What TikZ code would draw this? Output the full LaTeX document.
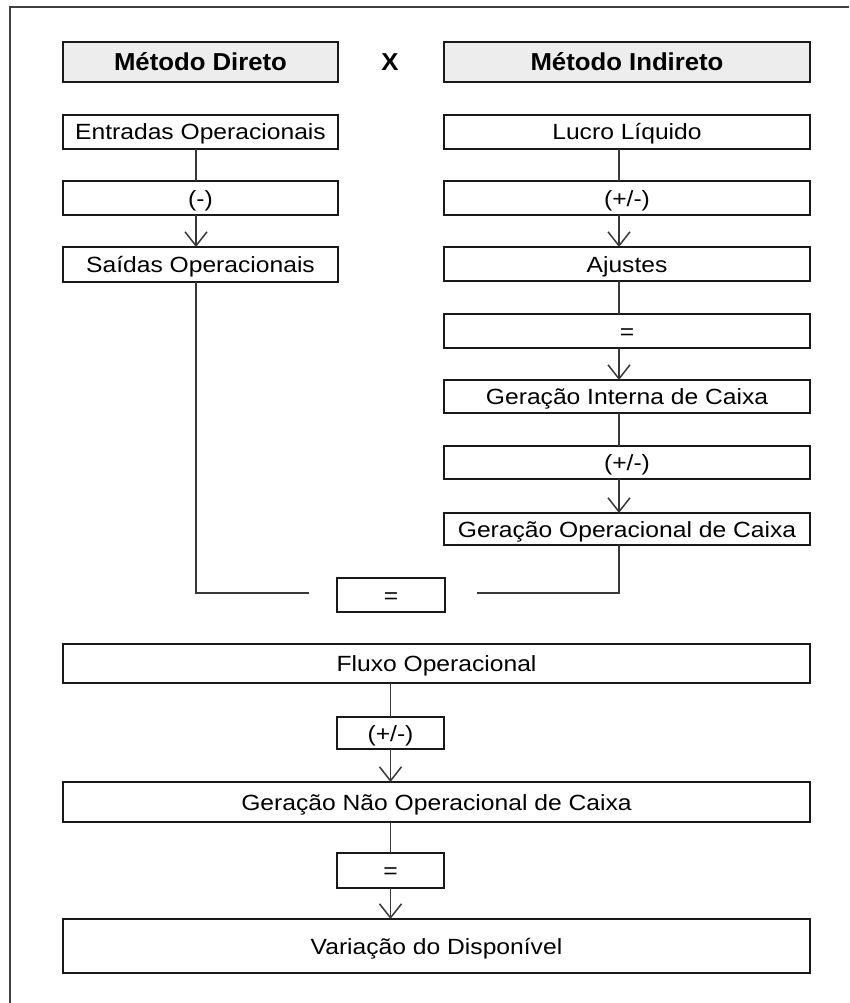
\documentclass[tikz,border=0pt]{standalone}
\usepackage{fontspec}
\setmainfont{Liberation Sans}[FakeStretch=1.12]
\newfontfamily\hdfont{Liberation Sans}[FakeStretch=1.05]
\usetikzlibrary{arrows.meta,calc}
\begin{document}
\begin{tikzpicture}[x=1pt,y=-1pt,
  box/.style={draw=black!90, line width=2pt, fill=white, rectangle, inner sep=0pt, outer sep=0pt,
    font=\fontsize{22}{26}\selectfont, text height=16pt, text depth=0pt},
  hdr/.style={box, fill=black!7, font=\hdfont\bfseries\fontsize{24.5}{28}\selectfont, text height=17pt},
  lbox/.style={box, minimum width=275pt},
  rbox/.style={box, minimum width=366pt},
  wbox/.style={box, minimum width=747pt},
  sbox/.style={box, minimum width=107pt},
  conn/.style={draw=black!78, line width=1.6pt},
  arr/.style={conn, -{Straight Barb[length=14pt,width=22pt,line width=1.5pt]}}
]
\useasboundingbox (0,0) rectangle (849,1003);
\draw[line width=2pt, black!75] (849,7) -- (10,7) -- (10,1003);

% headers
\node[hdr, minimum width=275pt, minimum height=40pt] (hd) at (200.5,62) {Método Direto};
\node[font=\hdfont\bfseries\fontsize{24.5}{28}\selectfont, inner sep=0pt, text height=17pt, text depth=0pt] (vs) at (390,62) {X};
\node[hdr, minimum width=366pt, minimum height=40pt] (hi) at (627,62) {Método Indireto};

% left column
\node[lbox, minimum height=34pt] (eo) at (200.5,132) {Entradas Operacionais};
\node[lbox, minimum height=34pt] (m1) at (200.5,198) {(-)};
\node[lbox, minimum height=35pt] (so) at (200.5,264.5) {Saídas Operacionais};

% right column
\node[rbox, minimum height=34pt] (ll) at (627,132) {Lucro Líquido};
\node[rbox, minimum height=34pt] (r1) at (627,198) {(+/-)};
\node[rbox, minimum height=34pt] (aj) at (627,264) {Ajustes};
\node[rbox, minimum height=34pt] (r2) at (627,331) {=};
\node[rbox, minimum height=33pt] (gi) at (627,396.5) {Geração Interna de Caixa};
\node[rbox, minimum height=33pt] (r3) at (627,462.5) {(+/-)};
\node[rbox, minimum height=32pt] (go) at (627,529) {Geração Operacional de Caixa};

% middle
\node[sbox, minimum width=108pt, minimum height=34pt] (eq) at (391,595) {=};

% bottom
\node[wbox, minimum height=39pt] (fo) at (436.5,663.5) {Fluxo Operacional};
\node[sbox, minimum height=32pt] (b1) at (390.5,733) {(+/-)};
\node[wbox, minimum height=40pt] (gn) at (436.5,802) {Geração Não Operacional de Caixa};
\node[sbox, minimum height=35pt] (b2) at (390.5,870.5) {=};
\node[wbox, minimum height=54pt] (vd) at (436.5,946) {Variação do Disponível};

% column guide coordinates
\coordinate (lc) at (196,0);
\coordinate (rc) at (619,0);
\coordinate (lend) at (309,593);
\coordinate (rend) at (477,593);

% left connectors
\draw[conn] (eo.south -| lc) -- (m1.north -| lc);
\draw[arr] (m1.south -| lc) -- (so.north -| lc);
\draw[conn] (so.south -| lc) |- (lend);

% right connectors
\draw[conn] (ll.south -| rc) -- (r1.north -| rc);
\draw[arr] (r1.south -| rc) -- (aj.north -| rc);
\draw[conn] (aj.south -| rc) -- (r2.north -| rc);
\draw[arr] (r2.south -| rc) -- (gi.north -| rc);
\draw[conn] (gi.south -| rc) -- (r3.north -| rc);
\draw[arr] (r3.south -| rc) -- (go.north -| rc);
\draw[conn] (go.south -| rc) |- (rend);

% bottom connectors
\draw[conn] (fo.south -| b1) -- (b1.north);
\draw[arr] (b1.south) -- (gn.north -| b1);
\draw[conn] (gn.south -| b2) -- (b2.north);
\draw[arr] (b2.south) -- (vd.north -| b2);
\end{tikzpicture}
\end{document}
